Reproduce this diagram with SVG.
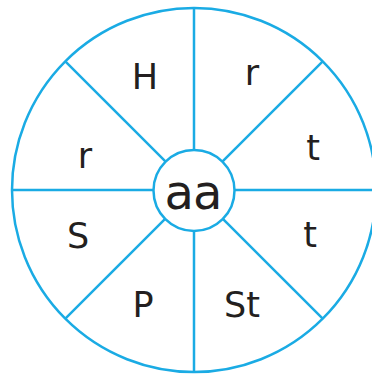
<svg xmlns="http://www.w3.org/2000/svg" width="372" height="377" viewBox="0 0 372 377">
<style>
.ln{stroke:#1AABE4;stroke-width:2.5;fill:none}
.lbl{font-family:"DejaVu Sans","Noto Sans",sans-serif;font-size:35px;fill:#231F20;text-anchor:middle}
</style>
<rect width="372" height="377" fill="#fff"/>
<g id="connectors">
<circle class="ln" cx="194" cy="190" r="182"/>
<line class="ln" x1="194" y1="8" x2="194" y2="149.5"/>
<line class="ln" x1="194" y1="230.5" x2="194" y2="372"/>
<line class="ln" x1="12" y1="190" x2="153.5" y2="190"/>
<line class="ln" x1="234.5" y1="190" x2="376" y2="190"/>
<line class="ln" x1="65.3" y1="61.3" x2="165.4" y2="161.4"/>
<line class="ln" x1="322.7" y1="61.3" x2="222.6" y2="161.4"/>
<line class="ln" x1="65.3" y1="318.7" x2="165.4" y2="218.6"/>
<line class="ln" x1="322.7" y1="318.7" x2="222.6" y2="218.6"/>
</g>
<g id="center"><circle class="ln" cx="194" cy="190.5" r="40.5" fill="#fff"/><text class="lbl" x="193" y="209" style="font-size:48px;letter-spacing:-1px">aa</text></g>
<g id="s1"><text class="lbl" x="145" y="89">H</text></g>
<g id="s2"><text class="lbl" x="252" y="85">r</text></g>
<g id="s3"><text class="lbl" x="313" y="160">t</text></g>
<g id="s4"><text class="lbl" x="310" y="247">t</text></g>
<g id="s5"><text class="lbl" x="242" y="317">St</text></g>
<g id="s6"><text class="lbl" x="143" y="317">P</text></g>
<g id="s7"><text class="lbl" x="78" y="248">S</text></g>
<g id="s8"><text class="lbl" x="85" y="168">r</text></g>
</svg>
